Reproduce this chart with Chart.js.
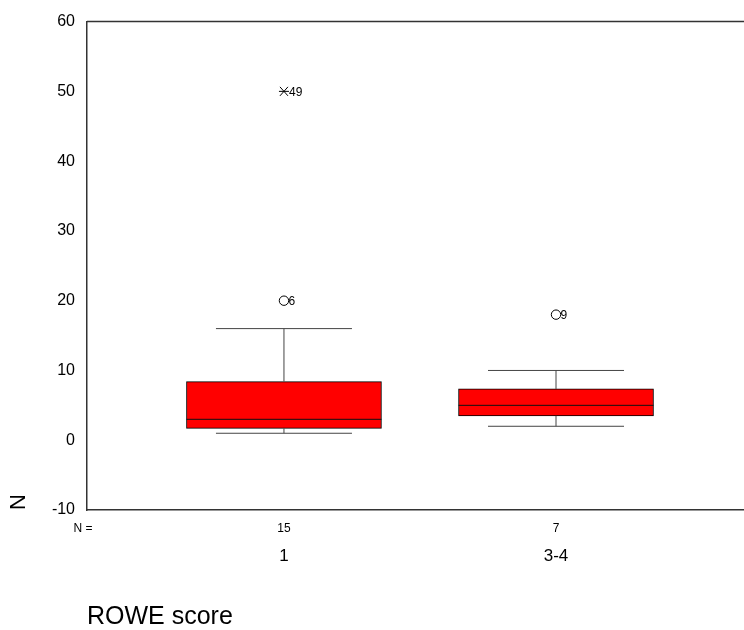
<!DOCTYPE html>
<html>
<head>
<meta charset="utf-8">
<script src="https://cdn.jsdelivr.net/npm/chart.js@4.4.1/dist/chart.umd.min.js"></script>
<style>
  body { margin: 0; background: #fff; }
  #wrap { width: 744px; height: 630px; }
</style>
</head>
<body>
<div id="wrap"><canvas id="myChart" width="744" height="630"></canvas></div>
<script>
var FONT = "'Liberation Sans', Arial, sans-serif";

// ROWE score groups
var categories = ['1', '3-4'];
var counts = [15, 7];
var whiskerLow = [1, 2];
var q1 = [1.7, 3.5];
var median = [3, 5];
var q3 = [8.4, 7.35];
var whiskerHigh = [16, 10];

// outliers (circle) and extremes (star) with case labels
var outlierCat = [0, 1];
var outlierValue = [20, 18];
var outlierLabel = ['6', '9'];
var extremeCat = [0];
var extremeValue = [50];
var extremeLabel = ['49'];

var yTicks = [-10, 0, 10, 20, 30, 40, 50, 60];

/* ---------box plot extras: whiskers, medians, outliers--------- */
const boxExtras = {
    id: 'boxExtras',
    afterDatasetsDraw(chart) {
        const {ctx, chartArea: {top, bottom, left, right}, scales: {x, y}} = chart;
        const capHalf = 68;
        const boxHalf = 97.5;
        ctx.save();
        // top frame line
        ctx.strokeStyle = '#333';
        ctx.lineWidth = 1.5;
        ctx.beginPath();
        ctx.moveTo(left, top);
        ctx.lineTo(right, top);
        ctx.stroke();

        for (var i = 0; i < categories.length; i++) {
            var cx = x.getPixelForValue(i);
            ctx.strokeStyle = '#444';
            ctx.lineWidth = 1;
            ctx.beginPath();
            // upper whisker
            ctx.moveTo(cx, y.getPixelForValue(q3[i]));
            ctx.lineTo(cx, y.getPixelForValue(whiskerHigh[i]));
            ctx.moveTo(cx - capHalf, y.getPixelForValue(whiskerHigh[i]));
            ctx.lineTo(cx + capHalf, y.getPixelForValue(whiskerHigh[i]));
            // lower whisker
            ctx.moveTo(cx, y.getPixelForValue(q1[i]));
            ctx.lineTo(cx, y.getPixelForValue(whiskerLow[i]));
            ctx.moveTo(cx - capHalf, y.getPixelForValue(whiskerLow[i]));
            ctx.lineTo(cx + capHalf, y.getPixelForValue(whiskerLow[i]));
            ctx.stroke();
            // median
            ctx.strokeStyle = '#111';
            ctx.beginPath();
            ctx.moveTo(cx - boxHalf, y.getPixelForValue(median[i]));
            ctx.lineTo(cx + boxHalf, y.getPixelForValue(median[i]));
            ctx.stroke();
        }

        ctx.font = '12px ' + FONT;
        ctx.fillStyle = '#000';
        ctx.textBaseline = 'middle';
        ctx.textAlign = 'left';
        for (var j = 0; j < outlierValue.length; j++) {
            var ox = x.getPixelForValue(outlierCat[j]);
            var oy = y.getPixelForValue(outlierValue[j]);
            ctx.strokeStyle = '#000';
            ctx.lineWidth = 1;
            ctx.beginPath();
            ctx.arc(ox, oy, 4.7, 0, Math.PI * 2);
            ctx.stroke();
            ctx.fillText(outlierLabel[j], ox + 4.5, oy + 1);
        }
        for (var k = 0; k < extremeValue.length; k++) {
            var ex = x.getPixelForValue(extremeCat[k]);
            var ey = y.getPixelForValue(extremeValue[k]);
            ctx.strokeStyle = '#000';
            ctx.beginPath();
            ctx.moveTo(ex - 5, ey);
            ctx.lineTo(ex + 5, ey);
            ctx.moveTo(ex - 4, ey - 4.5);
            ctx.lineTo(ex + 4, ey + 4.5);
            ctx.moveTo(ex - 4, ey + 4.5);
            ctx.lineTo(ex + 4, ey - 4.5);
            ctx.stroke();
            ctx.fillText(extremeLabel[k], ex + 5, ey + 1);
        }

        // N = counts under the axis
        ctx.font = '12px ' + FONT;
        ctx.textAlign = 'center';
        ctx.fillText('N =', 83, bottom + 19);
        for (var n = 0; n < counts.length; n++) {
            ctx.fillText(String(counts[n]), x.getPixelForValue(n), bottom + 19);
        }
        ctx.restore();
    }
};

var data = {
    datasets: [
        {
            data: categories.map(function (c, i) { return {x: i, y: [q1[i], q3[i]]}; }),
            backgroundColor: '#ff0000',
            borderColor: '#000',
            borderWidth: 1,
            borderSkipped: false,
            barThickness: 195
        }
    ]
};

const config = {
    type: 'bar',
    data,
    plugins: [boxExtras],
    options: {
        responsive: false,
        animation: false,
        layout: { padding: { top: 19, right: 0, bottom: 0, left: 0 } },
        plugins: {
            legend: { display: false },
            tooltip: { enabled: false }
        },
        scales: {
            x: {
                type: 'linear',
                min: -0.724,
                max: 1.691,
                offset: false,
                afterBuildTicks: function (s) { s.ticks = categories.map(function (c, i) { return {value: i}; }); },
                afterFit: function (s) { s.height = 120; },
                grid: { display: false, drawTicks: false },
                border: { display: true, color: '#333', width: 1.5 },
                ticks: {
                    autoSkip: false,
                    maxRotation: 0,
                    padding: 36,
                    color: '#000',
                    font: { size: 17, family: FONT },
                    callback: function (v) { return categories[v]; }
                },
                title: {
                    display: true,
                    text: 'ROWE score',
                    align: 'start',
                    color: '#000',
                    font: { size: 25, family: FONT, lineHeight: 1 },
                    padding: { top: 0, bottom: 0 }
                }
            },
            y: {
                min: -10,
                max: 60,
                afterBuildTicks: function (s) { s.ticks = yTicks.map(function (v) { return {value: v}; }); },
                afterFit: function (s) { s.width = 87; },
                grid: { display: false, drawTicks: false },
                border: { display: true, color: '#333', width: 1.5 },
                ticks: { padding: 12, color: '#000', font: { size: 16, family: FONT } },
                title: {
                    display: true,
                    text: 'N',
                    align: 'start',
                    color: '#000',
                    font: { size: 22, family: FONT, lineHeight: 1 },
                    padding: { top: 8, bottom: 0 }
                }
            }
        }
    }
};

var myChart = new Chart(document.getElementById('myChart'), config);
</script>
</body>
</html>
